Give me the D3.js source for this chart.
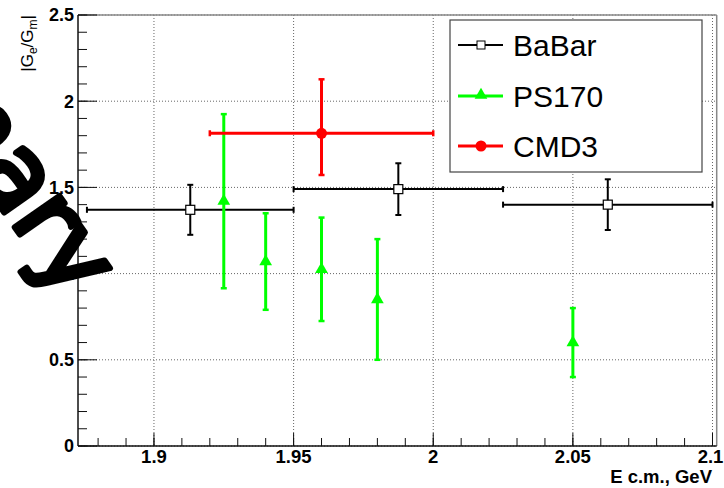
<!DOCTYPE html>
<html>
<head>
<meta charset="utf-8">
<script src="https://cdn.jsdelivr.net/npm/d3@7"></script>
<style>
  html, body { margin: 0; padding: 0; background: #fff; }
  svg { display: block; }
</style>
</head>
<body>
<svg id="chart" width="724" height="488"></svg>
<script>
// ---- data ----
const xMajorTicks = [1.9, 1.95, 2.0, 2.05, 2.1];
const xTickLabels = ["1.9", "1.95", "2", "2.05", "2.1"];
const yMajorTicks = [0, 0.5, 1, 1.5, 2, 2.5];
const yTickLabels = ["0", "0.5", "1", "1.5", "2", "2.5"];

const babarX    = [1.913, 1.9875, 2.0625];
const babarXErr = [0.037, 0.0375, 0.0375];
const babarY    = [1.37, 1.49, 1.40];
const babarYErr = [0.145, 0.15, 0.147];

const ps170X    = [1.925, 1.94, 1.96, 1.98, 2.05];
const ps170Y    = [1.42, 1.07, 1.025, 0.85, 0.60];
const ps170YErr = [0.505, 0.28, 0.30, 0.35, 0.20];

const cmd3X      = [1.96];
const cmd3XErr   = [0.04];
const cmd3Y      = [1.814];
const cmd3YErrUp = [0.313];
const cmd3YErrDn = [0.242];

const legendLabels = ["BaBar", "PS170", "CMD3"];

// ---- layout ----
const svg = d3.select("#chart");
const L = 78, R = 716.7, T = 15, B = 446;
const x = d3.scaleLinear().domain([1.8728, 2.1015]).range([L, R]);
const y = d3.scaleLinear().domain([0, 2.5]).range([B, T]);

const xMinor = d3.range(188, 210).map(d => d / 100).filter(v => v >= 1.8728 && v <= 2.1015);
const yMinor = d3.range(0, 26).map(d => d / 10);

const g = svg.append("g");

// gridlines (dotted)
g.selectAll(".gx").data(xMajorTicks).enter().append("line")
  .attr("x1", d => x(d)).attr("x2", d => x(d)).attr("y1", T).attr("y2", B)
  .attr("stroke", "#666").attr("stroke-width", 1).attr("stroke-dasharray", "1,2");
g.selectAll(".gy").data(yMajorTicks).enter().append("line")
  .attr("x1", L).attr("x2", R).attr("y1", d => y(d)).attr("y2", d => y(d))
  .attr("stroke", "#666").attr("stroke-width", 1).attr("stroke-dasharray", "1,2");

// frame
g.append("line").attr("x1", L).attr("x2", R).attr("y1", T).attr("y2", T).attr("stroke", "#888").attr("stroke-width", 1.5);
g.append("line").attr("x1", R).attr("x2", R).attr("y1", T).attr("y2", B).attr("stroke", "#888").attr("stroke-width", 1.5);
g.append("line").attr("x1", L).attr("x2", R).attr("y1", B).attr("y2", B).attr("stroke", "#111").attr("stroke-width", 1.5);
g.append("line").attr("x1", L).attr("x2", L).attr("y1", T).attr("y2", B).attr("stroke", "#111").attr("stroke-width", 1.5);

// x ticks (inward)
g.selectAll(".xmin").data(xMinor).enter().append("line")
  .attr("x1", d => x(d)).attr("x2", d => x(d)).attr("y1", B).attr("y2", B - 8)
  .attr("stroke", "#111").attr("stroke-width", 1);
g.selectAll(".xmaj").data(xMajorTicks).enter().append("line")
  .attr("x1", d => x(d)).attr("x2", d => x(d)).attr("y1", B).attr("y2", B - 13)
  .attr("stroke", "#111").attr("stroke-width", 1);
// y ticks (inward)
g.selectAll(".ymin").data(yMinor).enter().append("line")
  .attr("x1", L).attr("x2", L + 9).attr("y1", d => y(d)).attr("y2", d => y(d))
  .attr("stroke", "#111").attr("stroke-width", 1);
g.selectAll(".ymaj").data(yMajorTicks).enter().append("line")
  .attr("x1", L).attr("x2", L + 19).attr("y1", d => y(d)).attr("y2", d => y(d))
  .attr("stroke", "#111").attr("stroke-width", 1);

const font = "'Liberation Sans', Arial, Helvetica, sans-serif";

// tick labels
g.selectAll(".xl").data(xMajorTicks).enter().append("text")
  .attr("x", (d, i) => x(d) - (i === xMajorTicks.length - 1 ? 2 : 0)).attr("y", 463)
  .attr("text-anchor", "middle").attr("font-family", font).attr("font-weight", "bold")
  .attr("font-size", 18.5).text((d, i) => xTickLabels[i]);
g.selectAll(".yl").data(yMajorTicks).enter().append("text")
  .attr("x", 74).attr("y", d => y(d)).attr("dy", "0.36em")
  .attr("text-anchor", "end").attr("font-family", font).attr("font-weight", "bold")
  .attr("font-size", 18).text((d, i) => yTickLabels[i]);

// axis titles
g.append("text").attr("x", 712).attr("y", 483).attr("text-anchor", "end")
  .attr("font-family", font).attr("font-weight", "bold").attr("font-size", 18.5)
  .text("E c.m., GeV");
const yt = g.append("text").attr("transform", `translate(33,${T}) rotate(-90)`)
  .attr("text-anchor", "end").attr("font-family", font).attr("font-size", 17);
yt.append("tspan").text("|G");
yt.append("tspan").attr("dy", 4).attr("font-size", 12).text("e");
yt.append("tspan").attr("dy", -4).text("/G");
yt.append("tspan").attr("dy", 4).attr("font-size", 12).text("m");
yt.append("tspan").attr("dy", -4).text("|");

// ---- data drawing helpers ----
function capV(sel, cx, cy, color, w) {
  sel.append("line").attr("x1", cx - 3).attr("x2", cx + 3).attr("y1", cy).attr("y2", cy)
    .attr("stroke", color).attr("stroke-width", w);
}
function capH(sel, cx, cy, color, w) {
  sel.append("line").attr("x1", cx).attr("x2", cx).attr("y1", cy - 3).attr("y2", cy + 3)
    .attr("stroke", color).attr("stroke-width", w);
}

// BaBar
const gb = g.append("g");
babarX.forEach((xv, i) => {
  const cx = x(xv), cy = y(babarY[i]);
  const x0 = x(xv - babarXErr[i]), x1 = x(xv + babarXErr[i]);
  const y0 = y(babarY[i] - babarYErr[i]), y1 = y(babarY[i] + babarYErr[i]);
  gb.append("line").attr("x1", x0).attr("x2", x1).attr("y1", cy).attr("y2", cy).attr("stroke", "#000").attr("stroke-width", 2);
  gb.append("line").attr("x1", cx).attr("x2", cx).attr("y1", y0).attr("y2", y1).attr("stroke", "#000").attr("stroke-width", 2);
  capH(gb, x0, cy, "#000", 2); capH(gb, x1, cy, "#000", 2);
  capV(gb, cx, y0, "#000", 2); capV(gb, cx, y1, "#000", 2);
  gb.append("rect").attr("x", cx - 4.5).attr("y", cy - 4.5).attr("width", 9).attr("height", 9)
    .attr("fill", "#fff").attr("stroke", "#000").attr("stroke-width", 1.2);
});

// PS170
const gp = g.append("g");
const green = "#00ff00";
const tri = d3.symbol().type(d3.symbolTriangle).size(70);
ps170X.forEach((xv, i) => {
  const cx = x(xv), cy = y(ps170Y[i]);
  const y0 = y(ps170Y[i] - ps170YErr[i]), y1 = y(ps170Y[i] + ps170YErr[i]);
  gp.append("line").attr("x1", cx).attr("x2", cx).attr("y1", y0).attr("y2", y1).attr("stroke", green).attr("stroke-width", 3);
  capV(gp, cx, y0, green, 2.5); capV(gp, cx, y1, green, 2.5);
  gp.append("path").attr("d", tri).attr("transform", `translate(${cx},${cy})`).attr("fill", green);
});

// CMD3
const gc = g.append("g");
const red = "#ff0000";
cmd3X.forEach((xv, i) => {
  const cx = x(xv), cy = y(cmd3Y[i]);
  const x0 = x(xv - cmd3XErr[i]), x1 = x(xv + cmd3XErr[i]);
  const y0 = y(cmd3Y[i] - cmd3YErrDn[i]), y1 = y(cmd3Y[i] + cmd3YErrUp[i]);
  gc.append("line").attr("x1", x0).attr("x2", x1).attr("y1", cy).attr("y2", cy).attr("stroke", red).attr("stroke-width", 3);
  gc.append("line").attr("x1", cx).attr("x2", cx).attr("y1", y0).attr("y2", y1).attr("stroke", red).attr("stroke-width", 3);
  capH(gc, x0, cy, red, 2.5); capH(gc, x1, cy, red, 2.5);
  capV(gc, cx, y0, red, 2.5); capV(gc, cx, y1, red, 2.5);
  gc.append("circle").attr("cx", cx).attr("cy", cy).attr("r", 5.5).attr("fill", red);
});

// ---- legend ----
const lg = g.append("g");
lg.append("rect").attr("x", 450).attr("y", 20).attr("width", 252).attr("height", 152)
  .attr("fill", "#fff").attr("stroke", "#444").attr("stroke-width", 1.2);
const legY = [45, 96, 146];
const legColor = ["#000", green, red];
legendLabels.forEach((lab, i) => {
  const yy = legY[i];
  lg.append("line").attr("x1", 458).attr("x2", 503).attr("y1", yy).attr("y2", yy)
    .attr("stroke", legColor[i]).attr("stroke-width", i === 0 ? 2 : 3);
  if (i === 0) {
    lg.append("rect").attr("x", 477).attr("y", yy - 4).attr("width", 8).attr("height", 8)
      .attr("fill", "#fff").attr("stroke", "#000").attr("stroke-width", 1);
  } else if (i === 1) {
    lg.append("path").attr("d", tri).attr("transform", `translate(481,${yy - 1})`).attr("fill", green);
  } else {
    lg.append("circle").attr("cx", 481).attr("cy", yy).attr("r", 5.5).attr("fill", red);
  }
  lg.append("text").attr("x", 513).attr("y", yy + 11).attr("font-family", font)
    .attr("font-size", 30).text(lab);
});

// ---- watermark (hand-drawn style, slanted) ----
g.append("text").attr("transform", "translate(67,302) rotate(55)")
  .attr("text-anchor", "end").attr("font-family", "'DejaVu Sans', sans-serif")
  .attr("font-size", 100)
  .attr("fill", "#000").attr("stroke", "#000").attr("stroke-width", 6)
  .attr("stroke-linejoin", "round").attr("stroke-linecap", "round")
  .text("Preliminary");
</script>
</body>
</html>
